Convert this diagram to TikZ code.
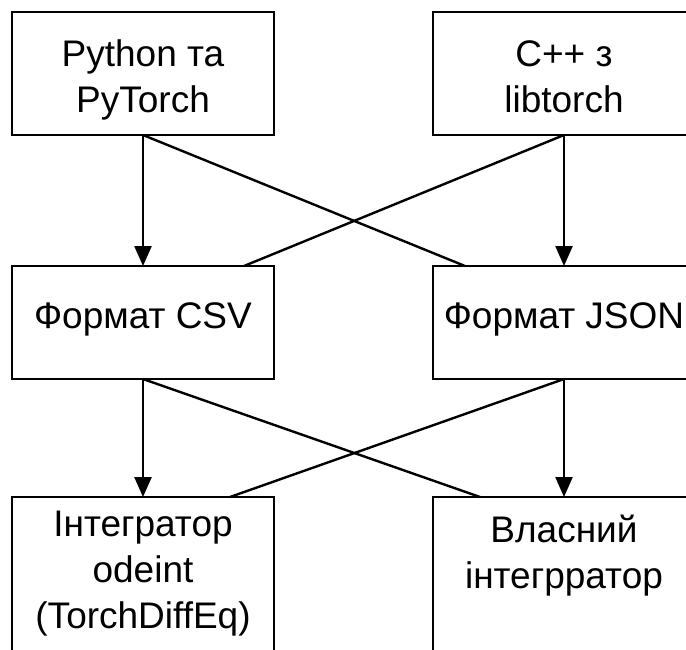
\documentclass[tikz,border=0pt]{standalone}
\usepackage{fontspec}
\setmainfont{Liberation Sans}
\usetikzlibrary{arrows.meta,calc}
\begin{document}
\begin{tikzpicture}[x=1pt,y=-1pt,
	box/.style={draw,line width=2.4pt,minimum width=262pt,inner sep=0pt,outer sep=0pt,align=center,anchor=north west,font=\fontsize{37}{46}\selectfont},
	flow/.style={line width=2.4pt,-{Triangle[length=20pt,width=17pt]}},
	cross/.style={line width=2.4pt}]
	\useasboundingbox (0,0) rectangle (686,649);
	\clip (0,0) rectangle (686,649);
	
	%Shape: Rectangle [top row]
	\node [box,text height=100pt,text depth=23pt] (python) at (12,12) {Python та\\PyTorch};
	\node [box,text height=100pt,text depth=23pt] (cpp) at (433,12) {C++ з\\libtorch};
	%Shape: Rectangle [middle row]
	\node [box,text height=62pt,text depth=51pt] (csv) at (12,266) {Формат CSV};
	\node [box,text height=62pt,text depth=51pt] (json) at (433,266) {Формат JSON};
	%Shape: Rectangle [bottom row]
	\node [box,text height=131pt,text depth=39pt] (odeint) at (12,497) {Інтегратор\\odeint\\(TorchDiffEq)};
	\node [box,text height=91pt,text depth=79pt] (own) at (433,497) {Власний\\інтегрратор};
	
	% Crossing ends
	\coordinate (jsonin) at ($(json.north west)+(32,0)$);
	\coordinate (csvin) at ($(csv.north east)+(-30,0)$);
	\coordinate (ownin) at ($(own.north west)+(47,0)$);
	\coordinate (odeintin) at ($(odeint.north east)+(-44,0)$);
	
	%Straight Lines
	\draw [flow] (python.south) -- (csv.north);
	\draw [flow] (cpp.south) -- (json.north);
	\draw [cross] (python.south) -- (jsonin);
	\draw [cross] (cpp.south) -- (csvin);
	\draw [flow] (csv.south) -- (odeint.north);
	\draw [flow] (json.south) -- (own.north);
	\draw [cross] (csv.south) -- (ownin);
	\draw [cross] (json.south) -- (odeintin);
	
\end{tikzpicture}
\end{document}
